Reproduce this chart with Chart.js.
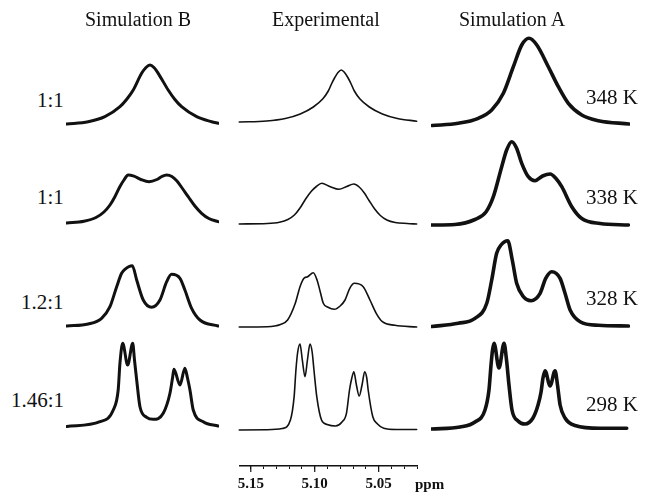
<!DOCTYPE html>
<html>
<head>
<meta charset="utf-8">
<script src="https://cdn.jsdelivr.net/npm/chart.js@4.4.0/dist/chart.umd.min.js"></script>
<style>
  html, body { margin: 0; padding: 0; background: #fff; }
  body { width: 649px; height: 499px; position: relative; overflow: hidden; font-family: 'Liberation Serif', 'Times New Roman', serif; color: #111; }
  .box { position: absolute; }
  .lbl { position: absolute; font-size: 21px; line-height: 24px; white-space: nowrap; }
  .title { position: absolute; font-size: 20px; line-height: 24px; white-space: nowrap; }
  .ppm { position: absolute; font-size: 15px; font-weight: bold; line-height: 16px; }
</style>
</head>
<body>
<div class="box" id="boxB" style="left:66px;top:30px;width:153px;height:436px"><canvas id="simB"></canvas></div>
<div class="box" id="boxE" style="left:232px;top:30px;width:191px;height:470px"><canvas id="expt"></canvas></div>
<div class="box" id="boxA" style="left:431px;top:30px;width:199px;height:436px"><canvas id="simA"></canvas></div>

<script>
// column titles, row labels (population ratio on the left, temperature on the right)
const columnTitles = ['Simulation B', 'Experimental', 'Simulation A'];
const ratios = ['1:1', '1:1', '1.2:1', '1.46:1'];
const temperatures = ['348 K', '338 K', '328 K', '298 K'];
const tickLabels = [5.15, 5.10, 5.05];

// spectra as [ppm, intensity] pairs (intensity in arbitrary units)
const simB348 = [[5.1522,0],[5.1365,2.3],[5.1243,7.3],[5.1133,17.3],[5.1082,25],[5.1036,34],[5.0975,50.7],
  [5.0943,56.5],[5.0914,59],[5.0885,56.5],[5.0854,50.7],[5.0781,34],[5.0732,24.5],[5.0683,17.3],[5.0573,7.3],
  [5.0464,2.3],[5.0416,0.7]];
const simB338 = [[5.1522,0],[5.1396,1.8],[5.1308,5.5],[5.1250,11],[5.1206,18],[5.1170,26.3],[5.1137,35.5],
  [5.1104,43],[5.1073,48],[5.1031,46.8],[5.0980,43.5],[5.0921,41.3],[5.0863,43.5],[5.0827,46.5],[5.0792,48],
  [5.0754,46.5],[5.0717,42],[5.0677,34.5],[5.0635,26.3],[5.0586,17],[5.0537,9.7],[5.0484,4.5],[5.0416,1.3]];
const simB328 = [[5.1522,0],[5.1365,2],[5.1267,7.7],[5.1206,19.3],[5.1157,39.3],[5.1121,52.7],[5.1097,56.7],
  [5.1043,60.3],[5.1011,46],[5.0963,26],[5.0902,18.7],[5.0841,26],[5.0792,44.3],[5.0756,51.7],[5.0695,47.7],
  [5.0659,36],[5.0610,17.7],[5.0549,6],[5.0416,0]];
const simB298 = [[5.1522,0],[5.1279,4.8],[5.1182,16.5],[5.1146,36.5],[5.1133,63.5],[5.1113,83.2],[5.1077,61.5],
  [5.1040,83.2],[5.1027,66.5],[5.1011,46.5],[5.0987,19.8],[5.0938,9.2],[5.0890,7.2],[5.0817,13.2],[5.0768,33.2],
  [5.0748,49.8],[5.0739,57.2],[5.0695,41.5],[5.0659,58.2],[5.0640,48.5],[5.0622,36.5],[5.0598,16.5],
  [5.0525,4.8],[5.0416,0.5]];

const expt348 = [[5.1590,0],[5.1376,1],[5.1230,3.5],[5.1113,8],[5.1011,15],[5.0938,23],[5.0894,31],
  [5.0869,38],[5.0843,44.5],[5.0818,49.5],[5.0792,52],[5.0767,49.5],[5.0741,44.5],[5.0715,38],[5.0690,31],
  [5.0646,23],[5.0573,15],[5.0471,8],[5.0354,3.5],[5.0203,0.8]];
const expt338 = [[5.1590,0],[5.1371,0.5],[5.1276,1.8],[5.1210,4.5],[5.1159,9],[5.1115,16],[5.1071,25],
  [5.1028,32.5],[5.0987,37.5],[5.0945,40.7],[5.0882,37.5],[5.0811,34.7],[5.0750,37.5],[5.0694,40],
  [5.0652,37],[5.0612,31],[5.0575,23.5],[5.0531,15],[5.0487,8.5],[5.0436,4],[5.0371,1.5],[5.0276,0.5],
  [5.0203,0]];
const expt328 = [[5.1590,0],[5.1371,0.3],[5.1268,2.5],[5.1212,7],[5.1152,23.7],[5.1115,40.3],[5.1084,48.7],
  [5.1055,50.3],[5.1011,54.3],[5.0982,47],[5.0957,35.3],[5.0933,23.7],[5.0896,19.7],[5.0847,17.7],
  [5.0801,21],[5.0763,27],[5.0726,38.7],[5.0690,43.7],[5.0621,40.3],[5.0568,27],[5.0519,13.7],
  [5.0471,5.3],[5.0373,1.7],[5.0203,0]];
const expt298 = [[5.1590,0],[5.1371,0.3],[5.1254,1.5],[5.1190,10],[5.1161,33.3],[5.1147,60],[5.1133,78],
  [5.1115,86],[5.1097,70],[5.1076,53.3],[5.1057,70],[5.1037,86],[5.1020,78],[5.1006,60],[5.0984,33.3],
  [5.0947,10],[5.0903,5.5],[5.0838,4],[5.0787,8],[5.0752,16.7],[5.0728,40],[5.0710,52],[5.0694,58.3],
  [5.0674,45],[5.0652,34],[5.0630,45],[5.0609,58.3],[5.0593,52],[5.0582,40],[5.0546,13.3],[5.0509,6],
  [5.0460,1.7],[5.0363,0.5],[5.0203,0.5]];

const simA348 = [[5.1564,0],[5.1374,2.2],[5.1228,7.2],[5.1130,15.5],[5.1045,32.2],[5.0972,58.8],[5.0911,80.5],
  [5.0858,87.2],[5.0801,80.5],[5.0717,58.8],[5.0644,38.8],[5.0571,22.2],[5.0473,10.5],[5.0352,4.8],[5.0128,1.5]];
const simA338 = [[5.1568,0],[5.1398,0.5],[5.1252,5.5],[5.1172,13],[5.1118,28.3],[5.1057,58.3],[5.1021,75],
  [5.0984,83.3],[5.0949,77],[5.0911,61.7],[5.0863,48.3],[5.0814,44.3],[5.0759,49],[5.0704,51],[5.0661,46.5],
  [5.0619,38.3],[5.0546,18.3],[5.0473,6.5],[5.0339,1.5],[5.0133,0]];
const simA328 = [[5.1568,0],[5.1374,3.2],[5.1252,8.2],[5.1166,23.2],[5.1130,46.5],[5.1094,73.2],[5.1062,81.5],
  [5.1013,85.8],[5.0980,66.5],[5.0948,43.2],[5.0899,29.8],[5.0843,25.8],[5.0777,33.2],[5.0736,48.2],
  [5.0692,54.8],[5.0631,48.2],[5.0595,33.2],[5.0558,16.5],[5.0485,4.8],[5.0352,1.2],[5.0133,0.5]];
const simA298 = [[5.1568,0],[5.1361,2],[5.1252,7],[5.1179,19],[5.1150,39],[5.1135,64],[5.1124,79],[5.1113,85.7],
  [5.1077,61],[5.1040,85.7],[5.1022,69],[5.1004,44],[5.0982,19],[5.0938,8],[5.0887,5],[5.0829,11],[5.0792,24],
  [5.0770,37],[5.0756,51],[5.0741,58.3],[5.0704,43],[5.0668,58.3],[5.0650,44],[5.0631,24],[5.0595,11],
  [5.0522,3.5],[5.0339,0.7],[5.0145,0.7]];

// layout: how far each row's baseline sits above the bottom of the plot area
const rowLiftB = [342, 243, 140, 39.5];
const rowLiftE = [344, 242, 139, 36];
const rowLiftA = [340.5, 241, 139.5, 37];

function buildDatasets(spectra, lifts, width) {
  return spectra.map((spec, i) => ({
    data: spec.map(([ppm, inten]) => ({ x: ppm, y: lifts[i] + inten })),
    borderColor: '#111',
    borderWidth: width,
    pointRadius: 0,
    fill: false,
    clip: false,
    cubicInterpolationMode: 'monotone',
    borderJoinStyle: 'round',
    borderCapStyle: 'round'
  }));
}

function baseOptions(xMin, xMax) {
  return {
    responsive: true,
    maintainAspectRatio: false,
    animation: false,
    layout: { padding: 0 },
    plugins: { legend: { display: false }, tooltip: { enabled: false } },
    scales: {
      x: { type: 'linear', reverse: true, min: xMin, max: xMax, display: false },
      y: { type: 'linear', min: 0, max: 436, display: false }
    }
  };
}

const majorTicks = {
  id: 'majorTicks',
  afterDraw(chart) {
    const sc = chart.scales.x;
    const ctx = chart.ctx;
    ctx.save();
    ctx.strokeStyle = '#111';
    ctx.lineWidth = 1.2;
    tickLabels.forEach((v) => {
      const px = sc.getPixelForValue(v);
      ctx.beginPath();
      ctx.moveTo(px, sc.top);
      ctx.lineTo(px, sc.top + 6);
      ctx.stroke();
    });
    ctx.restore();
  }
};

new Chart(document.getElementById('simB'), {
  type: 'line',
  data: { datasets: buildDatasets([simB348, simB338, simB328, simB298], rowLiftB, 3) },
  options: baseOptions(5.0410, 5.1527)
});

const exptOptions = baseOptions(5.0195, 5.1590);
exptOptions.scales.x = {
  type: 'linear',
  reverse: true,
  min: 5.0195,
  max: 5.1590,
  afterFit: (scale) => { scale.height = 34; },
  border: { display: true, color: '#111', width: 1.5 },
  grid: { display: true, drawOnChartArea: false, drawTicks: true, tickLength: 3, color: '#111' },
  ticks: {
    stepSize: 0.01,
    includeBounds: false,
    autoSkip: false,
    maxRotation: 0,
    padding: 6,
    color: '#111',
    font: { family: 'Liberation Serif', size: 15, weight: 'bold' },
    callback: (v) => (Math.round(v * 100) % 5 === 0 ? Number(v).toFixed(2) : '')
  }
};

new Chart(document.getElementById('expt'), {
  type: 'line',
  data: { datasets: buildDatasets([expt348, expt338, expt328, expt298], rowLiftE, 1.6) },
  options: exptOptions,
  plugins: [majorTicks]
});

new Chart(document.getElementById('simA'), {
  type: 'line',
  data: { datasets: buildDatasets([simA348, simA338, simA328, simA298], rowLiftA, 3.6) },
  options: baseOptions(5.0121, 5.1573)
});

// text labels
function place(text, x, y, align, cls) {
  const el = document.createElement('div');
  el.className = cls || 'lbl';
  el.textContent = text;
  document.body.appendChild(el);
  const w = el.offsetWidth;
  const h = el.offsetHeight;
  const left = align === 'center' ? x - w / 2 : align === 'right' ? x - w : x;
  el.style.left = left + 'px';
  el.style.top = (y - h / 2) + 'px';
}

const titleX = [138, 326, 512];
columnTitles.forEach((t, i) => place(t, titleX[i], 19, 'center', 'title'));

const ratioY = [100, 197, 302, 400];
ratios.forEach((t, i) => place(t, 64, ratioY[i], 'right'));

const tempY = [97, 197, 298, 404];
temperatures.forEach((t, i) => place(t, 586, tempY[i], 'left'));

place('ppm', 415, 484, 'left', 'ppm');
</script>
</body>
</html>
